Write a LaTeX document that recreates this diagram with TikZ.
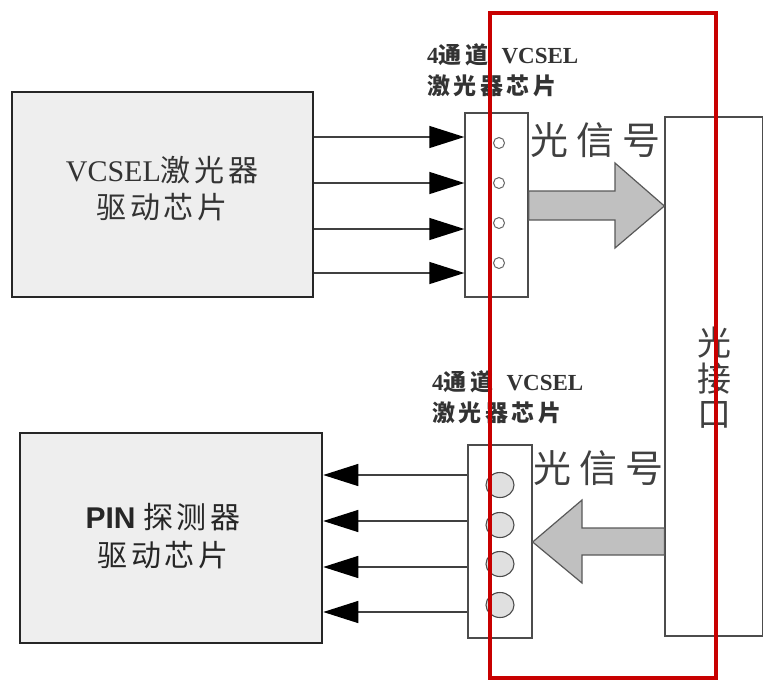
\documentclass[tikz,border=0pt]{standalone}
\usepackage{fontspec}
\setmainfont{Liberation Serif}
\newfontfamily\cjk{Noto Sans CJK SC}
\newfontfamily\cjkw[LetterSpace=22]{Noto Sans CJK SC}
\newfontfamily\cjkb[LetterSpace=12]{Noto Sans CJK SC}
\newfontfamily\cjkl[LetterSpace=15]{Noto Sans CJK SC}
\newfontfamily\sansf{Liberation Sans}
\usetikzlibrary{arrows.meta,shapes.geometric}
\definecolor{redframe}{RGB}{200,0,0}
\definecolor{boxfill}{RGB}{238,238,238}
\definecolor{bigarrow}{RGB}{192,192,192}
\tikzset{
  drvbox/.style={draw=black!85,line width=2.5pt,fill=boxfill,inner sep=0pt},
  chipbox/.style={draw=black!70,line width=1.3pt,fill=white,inner sep=0pt},
  pinline/.style={draw=black!75,line width=1.3pt},
  bigtip/.style={-{Triangle[length=35pt,width=22pt,black]}},
  smallled/.style={circle,draw=black!60,line width=1pt,fill=white,minimum size=11pt,inner sep=0pt},
  bigled/.style={ellipse,draw=black!70,line width=1.1pt,fill=black!12,minimum width=28pt,minimum height=25pt,inner sep=0pt},
  grayarrow/.style={draw=black!65,line width=1.2pt,fill=bigarrow},
  chiplabel/.style={anchor=west,inner sep=0pt,font=\fontsize{23}{31}\selectfont,align=left,text=black!80},
  siglabel/.style={anchor=west,inner sep=0pt,font=\cjkw\fontsize{38}{40}\selectfont,text=black!75}
}
\begin{document}
\begin{tikzpicture}[x=1pt,y=-1pt]
\useasboundingbox (0,0) rectangle (763,681);
% driver boxes
\node[drvbox,minimum width=301pt,minimum height=205pt] (tl) at (162.5,194.5) {};
\node[inner sep=0pt,align=center,font=\fontsize{30}{37}\selectfont,text=black!80] (tlt) at (162,189)
  {VCSEL{\cjkb 激光器}\\[0pt]{\cjkb 驱动芯片}};
\node[drvbox,minimum width=302pt,minimum height=210pt] (bl) at (171,538) {};
\node[inner sep=0pt,align=center,font=\fontsize{30}{38}\selectfont,text=black!85] (blt) at (163,536)
  {{\sansf\bfseries PIN} {\cjkb 探测器}\\{\cjkb 驱动芯片}};
% chips
\node[chipbox,minimum width=63pt,minimum height=184pt] (tc) at (496.5,205) {};
\node[chipbox,minimum width=64pt,minimum height=193pt] (bc) at (500,541.5) {};
% optical interface
\node[chipbox,minimum width=98pt,minimum height=519pt] (oi) at (714,376.5) {};
\node[inner sep=0pt,align=center,font=\cjk\fontsize{34}{35.5}\selectfont,text=black!75] (oit) at (714,378) {光\\接\\口};
% chip labels
\node[chiplabel] (tcl) at (427,70) {\textbf{4}{\cjkl\bfseries 通道}\hspace{10pt}\textbf{VCSEL}\\{\cjkl\bfseries 激光器芯片}};
\node[chiplabel] (bcl) at (432,397) {\textbf{4}{\cjkl\bfseries 通道}\hspace{10pt}\textbf{VCSEL}\\{\cjkl\bfseries 激光器芯片}};
% LEDs
\foreach \i/\y in {1/143,2/183,3/223,4/263}{
  \node[smallled] (tled\i) at (499,\y) {};
}
\foreach \i/\y in {1/485,2/525,3/564,4/605}{
  \node[bigled] (bled\i) at (500,\y) {};
}
% pins
\foreach \i/\y in {1/137,2/183,3/229,4/273}{
  \coordinate (tp\i) at (0,\y);
  \draw[pinline,bigtip] (tl.east |- tp\i) -- (tc.west |- tp\i);
}
\foreach \i/\y in {1/475,2/521,3/567,4/612}{
  \coordinate (bp\i) at (0,\y);
  \draw[pinline,bigtip] (bc.west |- bp\i) -- (bl.east |- bp\i);
}
% signal labels
\node[siglabel] (s1) at (530,140) {光信号};
\node[siglabel] (s2) at (533,468) {光信号};
% big gray arrows
\draw[grayarrow] (tc.east |- 0,191) -- (615,191) -- (615,163) -- (oi.west |- 0,206) -- (615,248) -- (615,220) -- (tc.east |- 0,220) -- cycle;
\draw[grayarrow] (oi.west |- 0,528) -- (582,528) -- (582,500) -- (bc.east |- 0,542) -- (582,583) -- (582,555) -- (oi.west |- 0,555) -- cycle;
% red frame
\draw[redframe,line width=4pt] (490,13) rectangle (716,678);
\end{tikzpicture}
\end{document}
